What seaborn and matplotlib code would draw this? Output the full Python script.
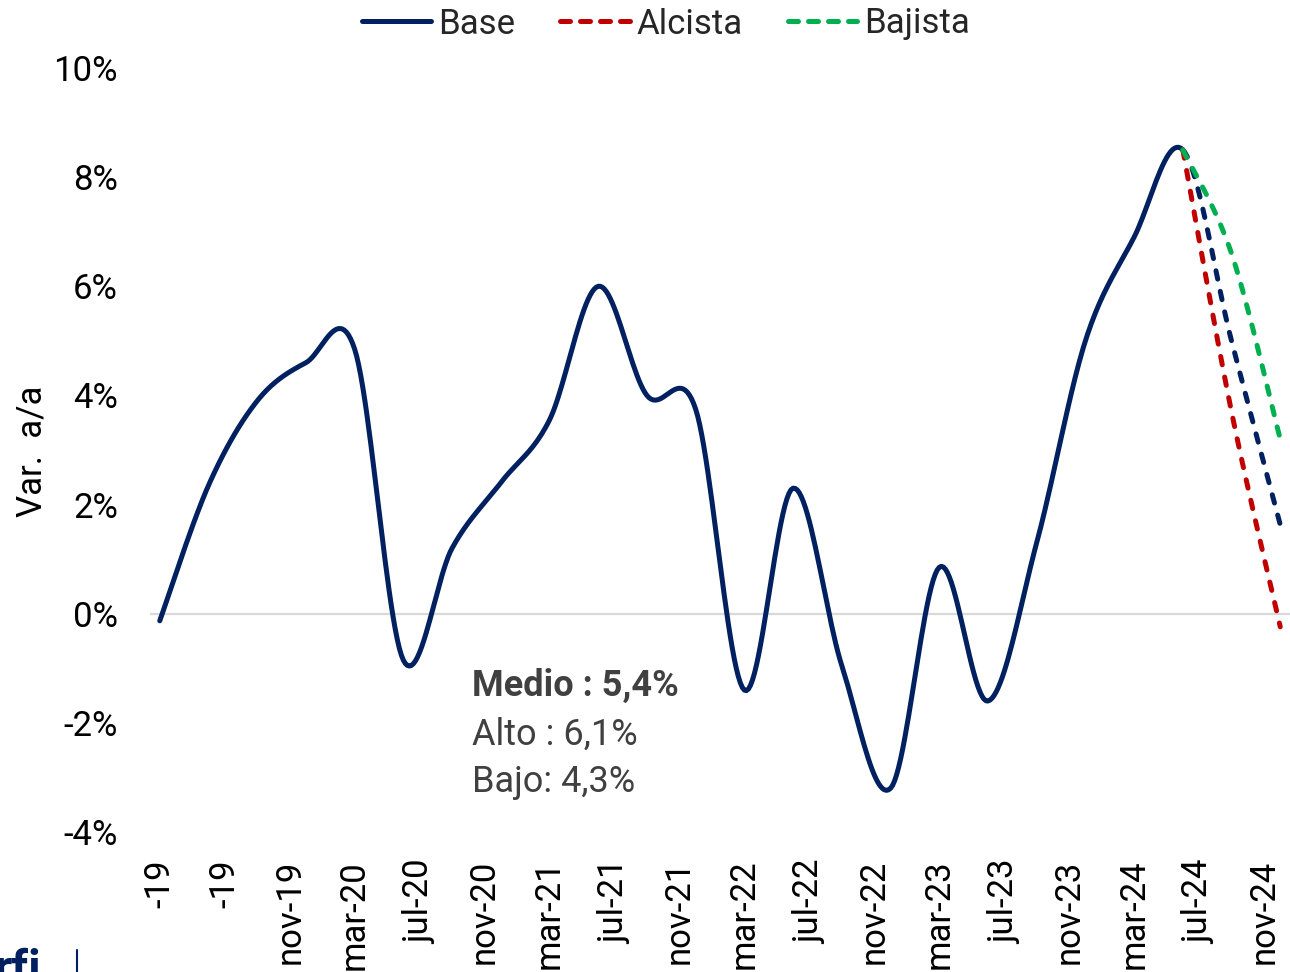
import numpy as np
import pandas as pd
import matplotlib
matplotlib.use('Agg')
import matplotlib.pyplot as plt
from matplotlib.lines import Line2D
import seaborn as sns

# quarterly history (months counted from mar-19)
quarters = ['mar-19', 'jun-19', 'sep-19', 'dec-19', 'mar-20', 'jun-20', 'sep-20', 'dec-20',
            'mar-21', 'jun-21', 'sep-21', 'dec-21', 'mar-22', 'jun-22', 'sep-22', 'dec-22',
            'mar-23', 'jun-23', 'sep-23', 'dec-23', 'mar-24', 'jun-24']
quarter_month = [0, 3, 6, 9, 12, 15, 18, 21, 24, 27, 30, 33, 36, 39, 42, 45, 48, 51, 54, 57, 60, 63]
base_values = [-0.13, 2.35, 3.9, 4.6, 4.85, -0.85, 1.2, 2.4, 3.55, 6.0, 4.0, 3.75,
               -1.4, 2.3, -0.95, -3.2, 0.85, -1.6, 1.3, 5.0, 6.9, 8.5]

# scenario projections
proj_quarters = ['jun-24', 'sep-24', 'dec-24']
proj_month = [63, 66, 69]
base_proj = [8.5, 5.0, 1.63]
alcista_proj = [8.5, 3.7, -0.24]
bajista_proj = [8.5, 6.6, 3.2]

tick_month = list(range(0, 69, 4))
tick_labels = ['-19', '-19', 'nov-19', 'mar-20', 'jul-20', 'nov-20', 'mar-21', 'jul-21', 'nov-21',
               'mar-22', 'jul-22', 'nov-22', 'mar-23', 'jul-23', 'nov-23', 'mar-24', 'jul-24', 'nov-24']

NAVY = '#002060'
RED = '#C00000'
GREEN = '#00B050'


def smooth(x, y, n=24):
    # Catmull-Rom curve through the points, like Excel's smoothed line
    px = np.concatenate([[x[0]], x, [x[-1]]]).astype(float)
    py = np.concatenate([[y[0]], y, [y[-1]]]).astype(float)
    t = np.linspace(0, 1, n, endpoint=False)
    xs, ys = [], []
    for i in range(1, len(px) - 2):
        for p, out in ((px, xs), (py, ys)):
            p0, p1, p2, p3 = p[i - 1:i + 3]
            out.append(0.5 * (2 * p1 + (-p0 + p2) * t + (2 * p0 - 5 * p1 + 4 * p2 - p3) * t ** 2
                              + (-p0 + 3 * p1 - 3 * p2 + p3) * t ** 3))
    xs.append([px[-2]])
    ys.append([py[-2]])
    return pd.DataFrame({'x': np.concatenate(xs), 'y': np.concatenate(ys)})


sns.set_theme(style='white')
plt.rcParams['font.family'] = ['Roboto', 'DejaVu Sans']

fig = plt.figure(figsize=(12.9, 9.72), dpi=100)
ax = fig.add_axes([150 / 1290, 1 - 832 / 972, 1 - 150 / 1290, (832 - 68) / 972])

ax.axhline(0, color='#d9d9d9', lw=1.6, zorder=0)

dash = (0, (1.7, 2.5))
lw = 3.6

# base series is one smoothed curve: solid for history, dashed for the projection
full_base = smooth(quarter_month + proj_month[1:], base_values + base_proj[1:])
hist = full_base[full_base['x'] <= quarter_month[-1]]
fut = full_base[full_base['x'] >= quarter_month[-1]]
sns.lineplot(data=hist, x='x', y='y', sort=False, estimator=None, ax=ax,
             color=NAVY, linewidth=lw, solid_capstyle='round')
sns.lineplot(data=fut, x='x', y='y', sort=False, estimator=None, ax=ax,
             color=NAVY, linewidth=lw, linestyle=dash, dash_capstyle='round')
for vals, col in ((alcista_proj, RED), (bajista_proj, GREEN)):
    d = smooth(proj_month, vals)
    sns.lineplot(data=d, x='x', y='y', sort=False, estimator=None, ax=ax,
                 color=col, linewidth=lw, linestyle=dash, dash_capstyle='round')

ax.set_xlim(-0.6, 69.6)
ax.set_ylim(-4, 10)
ax.set_yticks(range(-4, 11, 2))
ax.set_yticklabels([f'{v}%' for v in range(-4, 11, 2)])
ax.set_xticks(tick_month)
ax.set_xticklabels(tick_labels, rotation=90, va='top')
ax.tick_params(axis='y', length=0, pad=23, labelsize=25, labelcolor='black')
ax.tick_params(axis='x', length=0, pad=20, labelsize=25, labelcolor='black')
ax.set_xlabel('')
ax.set_ylabel('')
for s in ax.spines.values():
    s.set_visible(False)

fig.text(32 / 1290, 1 - 451 / 972, 'Var.  a/a', rotation=90, fontsize=25,
         ha='center', va='center', color='black')

txt_col = '#404040'
ax.text(19.2, -1.32, 'Medio : 5,4%', fontsize=26, weight='bold', color=txt_col, va='center')
ax.text(19.2, -2.22, 'Alto : 6,1%', fontsize=26, color=txt_col, va='center')
ax.text(19.2, -3.08, 'Bajo: 4,3%', fontsize=26, color=txt_col, va='center')

leg_dash = (0, (2.0, 2.0))
handles = [Line2D([], [], color=NAVY, lw=lw, solid_capstyle='round'),
           Line2D([], [], color=RED, lw=lw, linestyle=leg_dash, dash_capstyle='round'),
           Line2D([], [], color=GREEN, lw=lw, linestyle=leg_dash, dash_capstyle='round')]
fig.legend(handles, ['Base', 'Alcista', 'Bajista'], loc='center', ncol=3,
           bbox_to_anchor=(666 / 1290, 1 - 24 / 972), frameon=False, fontsize=25,
           handlelength=2.0, handletextpad=0.2, columnspacing=1.3, borderpad=0)

# partial logo at the bottom-left corner
fig.text(-0.004, 1 - 948 / 972, 'rfi', fontsize=34, weight='bold', color=NAVY, va='top')
fig.add_artist(Line2D([77 / 1290, 77 / 1290], [0, 22 / 972], color=NAVY, lw=1.5))

fig.savefig('out.png', dpi=100)
